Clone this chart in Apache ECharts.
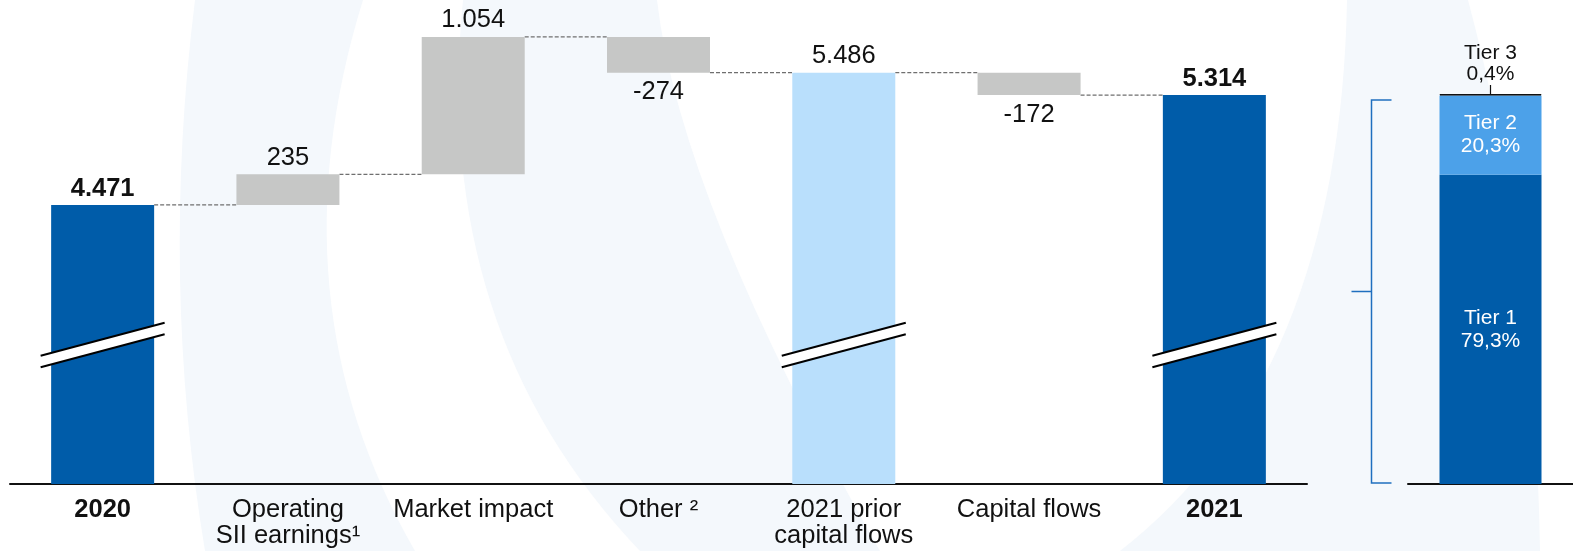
<!DOCTYPE html>
<html><head><meta charset="utf-8">
<script src="https://cdn.jsdelivr.net/npm/echarts@6/dist/echarts.min.js"></script>
<style>html,body{margin:0;padding:0;background:#fff;}#c{width:1573px;height:551px;}</style>
</head><body><div id="c"></div>
<script>
// ---- data ----
const categories = ['2020', 'Operating\nSII earnings\u00b9', 'Market impact', 'Other \u00b2', '2021 prior\ncapital flows', 'Capital flows', '2021'];
const kinds = ['total', 'delta', 'delta', 'delta', 'total', 'delta', 'total'];
const values = [4471, 235, 1054, -274, 5486, -172, 5314];
const tierNames = ['Tier 1', 'Tier 2', 'Tier 3'];
const tierShares = [79.3, 20.3, 0.4];

// ---- derived ----
const DARK = '#005ca9', LIGHT = '#b9dffc', GREY = '#c6c7c6', TIER2 = '#4ca1e9';
const n = values.length;
const bases = [], heights = [], levels = [];
let level = 0;
values.forEach((v, i) => {
  if (kinds[i] === 'total') { bases.push(0); heights.push(v); level = v; }
  else if (v >= 0) { bases.push(level); heights.push(v); level += v; }
  else { bases.push(level + v); heights.push(-v); level += v; }
  levels.push(level);
});
const fmt = v => (v < 0 ? '-' : '') + String(Math.abs(v)).replace(/\B(?=(\d{3})+(?!\d))/g, '.');
const pct = v => v.toFixed(1).replace('.', ',') + '%';
const isEnd = i => i === 0 || i === n - 1;
const BAR_W = 103;
const BREAK_VALUE = 3397;
const FONT = 'Liberation Sans, Arial, sans-serif';
const WATERMARK = [
  'M195,0 Q160,280 205,551 L415,551 Q270,300 363,0 Z',
  'M463,0 Q430,330 640,551 L880,551 Q680,200 657,0 Z',
  'M1347,0 Q1340,380 1120,551 L1540,551 Q1535,250 1468,0 Z'
];

const visData = values.map((v, i) => {
  const neg = kinds[i] === 'delta' && v < 0;
  const color = kinds[i] === 'delta' ? GREY : (isEnd(i) ? DARK : LIGHT);
  return {
    value: heights[i],
    itemStyle: { color },
    label: {
      show: true,
      position: neg ? 'bottom' : 'top',
      distance: neg ? 6 : 3,
      formatter: fmt(v),
      fontWeight: isEnd(i) ? 'bold' : 'normal'
    }
  };
});

const chart = echarts.init(document.getElementById('c'), null, { renderer: 'canvas' });
chart.setOption({
  animation: false,
  backgroundColor: '#ffffff',
  textStyle: { fontFamily: FONT },
  grid: [
    { left: 10, width: 1297, top: 0, bottom: 67 },
    { left: 1408, right: 0, top: 94, bottom: 67 }
  ],
  xAxis: [
    {
      type: 'category', gridIndex: 0,
      data: categories.map((c, i) => ({ value: c, textStyle: { fontWeight: isEnd(i) ? 'bold' : 'normal' } })),
      axisLine: { lineStyle: { color: '#111', width: 2 } },
      axisTick: { show: false },
      axisLabel: { interval: 0, fontSize: 25.5, lineHeight: 26, color: '#111', margin: 13, fontFamily: FONT }
    },
    {
      type: 'category', gridIndex: 1, data: ['Tiers'],
      axisLine: { lineStyle: { color: '#111', width: 2 } },
      axisTick: { show: false }, axisLabel: { show: false }
    }
  ],
  yAxis: [
    { type: 'value', gridIndex: 0, min: 2331, max: 6043, show: false, splitLine: { show: false } },
    { type: 'value', gridIndex: 1, min: 0, max: 100, show: false, splitLine: { show: false } }
  ],
  series: [
    {
      type: 'custom', name: 'watermark', coordinateSystem: 'none', silent: true, z: -10,
      data: [[0]],
      renderItem: () => ({
        type: 'group',
        children: WATERMARK.map(p => ({ type: 'path', shape: { pathData: p }, style: { fill: '#f4f8fc' } }))
      })
    },
    {
      type: 'bar', name: 'base', stack: 'wf', xAxisIndex: 0, yAxisIndex: 0,
      barWidth: BAR_W, itemStyle: { color: 'transparent' }, silent: true,
      data: bases
    },
    {
      type: 'bar', name: 'value', stack: 'wf', xAxisIndex: 0, yAxisIndex: 0,
      barWidth: BAR_W,
      label: { fontSize: 25.5, lineHeight: 27, color: '#111', fontFamily: FONT },
      data: visData
    },
    {
      type: 'custom', name: 'connectors', xAxisIndex: 0, yAxisIndex: 0, silent: true, z: 1,
      data: levels.slice(0, n - 1).map((l, i) => [i, l]),
      renderItem: (params, api) => {
        const i = api.value(0), l = api.value(1);
        const a = api.coord([i, l]), b = api.coord([i + 1, l]);
        return {
          type: 'line',
          shape: { x1: a[0] + BAR_W / 2, y1: a[1], x2: b[0] - BAR_W / 2, y2: b[1] },
          style: { stroke: '#6f6f6f', lineWidth: 1.3, lineDash: [4, 2] }
        };
      }
    },
    {
      type: 'custom', name: 'breaks', xAxisIndex: 0, yAxisIndex: 0, silent: true, z: 5,
      data: kinds.map((k, i) => k === 'total' ? [i, BREAK_VALUE] : null).filter(d => d),
      renderItem: (params, api) => {
        const c = api.coord([api.value(0), api.value(1)]);
        const hx = 62, hy = 16.5, g = 5.75;
        const x1 = c[0] - hx, x2 = c[0] + hx;
        const u1 = c[1] - g + hy, u2 = c[1] - g - hy, l1 = c[1] + g + hy, l2 = c[1] + g - hy;
        return {
          type: 'group',
          children: [
            { type: 'polygon', shape: { points: [[x1, u1], [x2, u2], [x2, l2], [x1, l1]] }, style: { fill: '#fff' } },
            { type: 'line', shape: { x1: x1, y1: u1, x2: x2, y2: u2 }, style: { stroke: '#000', lineWidth: 2 } },
            { type: 'line', shape: { x1: x1, y1: l1, x2: x2, y2: l2 }, style: { stroke: '#000', lineWidth: 2 } }
          ]
        };
      }
    },
    {
      type: 'bar', name: tierNames[0], stack: 'tier', xAxisIndex: 1, yAxisIndex: 1, barWidth: 102,
      itemStyle: { color: DARK },
      label: { show: true, position: 'inside', color: '#fff', fontSize: 21, lineHeight: 23, fontFamily: FONT,
        formatter: tierNames[0] + '\n' + pct(tierShares[0]) },
      data: [tierShares[0]]
    },
    {
      type: 'bar', name: tierNames[1], stack: 'tier', xAxisIndex: 1, yAxisIndex: 1, barWidth: 102,
      itemStyle: { color: TIER2 },
      label: { show: true, position: 'inside', color: '#fff', fontSize: 21, lineHeight: 23, fontFamily: FONT,
        formatter: tierNames[1] + '\n' + pct(tierShares[1]) },
      data: [tierShares[1]]
    },
    {
      type: 'bar', name: tierNames[2], stack: 'tier', xAxisIndex: 1, yAxisIndex: 1, barWidth: 102,
      itemStyle: { color: '#111', borderColor: '#111', borderWidth: 1 },
      label: { show: true, position: 'top', distance: 9, color: '#111', fontSize: 21, lineHeight: 21, fontFamily: FONT,
        formatter: tierNames[2] + '\n' + pct(tierShares[2]) },
      data: [tierShares[2]]
    },
    {
      type: 'custom', name: 'bracket', xAxisIndex: 1, yAxisIndex: 1, silent: true, z: 3,
      data: [[0, 100]],
      renderItem: (params, api) => {
        const top = api.coord([0, 100]), bot = api.coord([0, 0]);
        const bx = top[0] - 119;
        const yt = top[1] + 6, yb = bot[1] - 1, ym = (yt + yb) / 2;
        const st = { stroke: '#1f6fbf', lineWidth: 1.5 };
        return {
          type: 'group',
          children: [
            { type: 'polyline', shape: { points: [[bx + 20, yt], [bx, yt], [bx, yb], [bx + 20, yb]] }, style: Object.assign({ fill: null }, st) },
            { type: 'line', shape: { x1: bx - 20, y1: ym, x2: bx, y2: ym }, style: st },
            { type: 'line', shape: { x1: top[0], y1: top[1] - 9, x2: top[0], y2: top[1] }, style: { stroke: '#111', lineWidth: 1.2 } }
          ]
        };
      }
    }
  ]
});
</script></body></html>
